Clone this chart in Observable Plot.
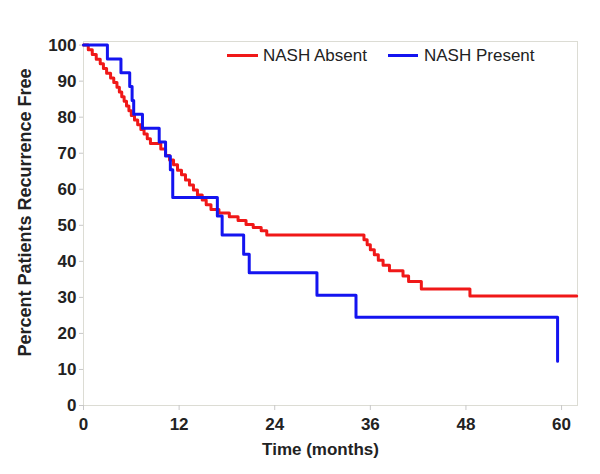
<!DOCTYPE html>
<html><head><meta charset="utf-8">
<script src="https://cdn.jsdelivr.net/npm/d3@7"></script>
<script src="https://cdn.jsdelivr.net/npm/@observablehq/plot@0.6"></script>
<style>
body{margin:0;background:#fff;font-family:"Liberation Sans",Arial,sans-serif}
#wrap{position:relative;width:600px;height:474px}
.lg-line{position:absolute;height:3px}
.lg-text{position:absolute;font-size:17px;color:#222;line-height:17px;white-space:nowrap}
</style></head>
<body><div id="wrap">
<div class="lg-line" style="left:227px;top:54px;width:31px;background:#f01818"></div>
<div class="lg-text" style="left:263px;top:47px">NASH Absent</div>
<div class="lg-line" style="left:388px;top:54px;width:30px;background:#1414f0"></div>
<div class="lg-text" style="left:424px;top:47px">NASH Present</div>
</div>
<script>
const xTicks = [0, 12, 24, 36, 48, 60];
const yTicks = [0, 10, 20, 30, 40, 50, 60, 70, 80, 90, 100];
const seriesNames = ["NASH Absent", "NASH Present"];

const absentTime = [0,0.6,1.1,1.6,2.1,2.5,2.9,3.4,3.8,4.2,4.5,4.8,5.1,5.4,5.7,6.0,6.4,6.8,7.2,7.6,8.0,8.4,9.7,10.3,10.8,11.3,11.8,12.3,12.8,13.3,13.8,14.3,14.9,15.4,16.0,17.0,18.3,19.4,20.4,21.3,22.3,23.0,35.2,35.6,36.0,36.5,37.0,37.6,38.4,40.1,40.8,42.4,48.5,61.9];
const absentSurv = [100,98.7,97.4,96.1,94.8,93.5,92.2,90.9,89.6,88.3,87.0,85.7,84.4,83.1,81.8,80.5,79.2,77.9,76.6,75.3,74.0,72.7,71.2,69.4,68.1,66.8,65.3,64.0,62.6,61.2,59.8,58.4,57.0,55.7,54.4,53.4,52.4,51.3,50.2,49.4,48.5,47.3,46.0,44.6,43.2,41.8,40.3,38.9,37.4,35.9,34.4,32.3,30.4,30.4];

const presentTime = [0,3.0,4.7,5.8,6.1,6.3,7.4,9.5,10.3,10.9,11.2,16.8,17.4,20.1,20.8,29.3,34.2,59.5];
const presentSurv = [100,96.15,92.3,88.5,84.6,80.8,76.9,73.1,69.2,65.4,57.7,52.6,47.3,42.0,36.8,30.6,24.5,12.25];

const absent = absentTime.map((t, i) => ({t, s: absentSurv[i]}));
const present = presentTime.map((t, i) => ({t, s: presentSurv[i]}));

const chart = Plot.plot({
  width: 600, height: 474,
  marginLeft: 83, marginRight: 23, marginTop: 41, marginBottom: 69,
  x: {domain: [0, 62]},
  y: {domain: [0, 101]},
  style: {fontFamily: "Liberation Sans, Arial, sans-serif", fontSize: "17px", color: "#222", background: "#fff"},
  marks: [
    Plot.frame({stroke: "#dcdcd4"}),
    Plot.axisX({ticks: xTicks, tickSize: 5, tickPadding: 7, stroke: "#c8c8c8", fill: "#222", fontWeight: "bold", fontSize: 17, label: null}),
    Plot.axisY({ticks: yTicks, tickSize: 4, tickPadding: 3, stroke: "#c8c8c8", fill: "#222", fontWeight: "bold", fontSize: 17, label: null}),
    Plot.line(absent, {x: "t", y: "s", curve: "step-after", stroke: "#f01818", strokeWidth: 3}),
    Plot.line(present, {x: "t", y: "s", curve: "step-after", stroke: "#1414f0", strokeWidth: 3}),
    Plot.text(["Time (months)"], {frameAnchor: "bottom", textAnchor: "middle", dx: -10, dy: 49, fontWeight: "bold", fontSize: 17, fill: "#222"}),
    Plot.text(["Percent Patients Recurrence Free"], {frameAnchor: "left", textAnchor: "middle", dx: -58, dy: -11, rotate: -90, fontWeight: "bold", fontSize: 18, fill: "#222"})
  ]
});
document.getElementById("wrap").prepend(chart);
</script>
</body></html>
